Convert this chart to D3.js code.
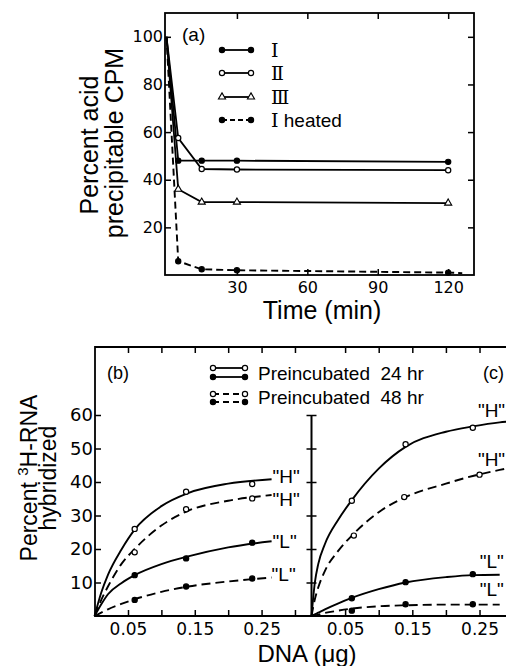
<!DOCTYPE html>
<html>
<head>
<meta charset="utf-8">
<script src="https://cdn.jsdelivr.net/npm/d3@7"></script>
<style>
  body { margin: 0; background: #fff; }
  svg { display: block; }
</style>
</head>
<body>
<script>
// ---- panel (a): percent acid precipitable CPM vs time
const timeMin = [5, 15, 30, 120];
const startPct = 100;                 // every series starts at 100% at t = 0
const pctI = [48, 48, 48, 47.5];
const pctII = [57.5, 44.5, 44.3, 44];
const pctIII = [36, 30.6, 30.6, 30.2];
const pctHeated = [5.8, 2.4, 2, 1];
const heatedTail = [126, 0.8];        // dashed line runs on past the last point
const timeTicks = [30, 60, 90, 120];
const pctTicks = [20, 40, 60, 80, 100];
const aNames = ["Ⅰ", "Ⅱ", "Ⅲ", "Ⅰ"];

// ---- panels (b) and (c): percent 3H-RNA hybridized vs DNA
const bDose = [0.06, 0.137, 0.236];
const bH24 = [26, 37.1, 39.4];
const bH48 = [19, 31.9, 35.1];
const bL24 = [12.2, 17.2, 21.9];
const bL48 = [4.8, 8.8, 11.2];
// hand-drawn curves, read along their length
const bFitX = [0, 0.01, 0.02, 0.04, 0.06, 0.1, 0.14, 0.2, 0.265];
const bFitH24 = [0, 7, 12.3, 19.8, 25.8, 32.8, 36.7, 39.5, 40.8];
const bFitH48 = [0, 4.8, 8.8, 15.5, 20, 27, 31.4, 34.4, 36.1];
const bFitL24 = [0, 3.5, 6.5, 9.8, 12.2, 15.5, 17.8, 20.5, 22.3];
const bFitL48 = [0, 1, 2, 3.6, 5, 7.2, 8.8, 10.3, 11.5];

const cDose = [0.06, 0.14, 0.24];
const cDoseH48 = [0.063, 0.138, 0.25];
const cH24 = [34.4, 51.3, 56.2];
const cH48 = [24, 35.5, 42.2];
const cL24 = [5.3, 10.1, 12.5];
const cL48 = [1.6, 3.5, 3.5];
const cFitX = [0, 0.005, 0.01, 0.02, 0.04, 0.06, 0.1, 0.14, 0.2, 0.24, 0.28, 0.29];
const cFitH24 = [0, 10, 15.5, 21.5, 28.8, 34.6, 44, 50.5, 55, 56.6, 57.8, 58];
const cFitH48 = [0, 5, 8.5, 13.5, 19.5, 24, 31, 35.5, 39.5, 41.8, 43.6, 44];
const cFitL24 = [0, 0.5, 1, 2, 3.8, 5.4, 8, 10, 11.6, 12.2, 12.3, null];
const cFitL48 = [0, 0.2, 0.4, 0.9, 1.6, 2.2, 2.9, 3.2, 3.4, 3.4, 3.4, null];

const doseTicks = [0.05, 0.1, 0.15, 0.2, 0.25, 0.3];
const doseLabels = [0.05, 0.15, 0.25];
const hybTicks = [10, 20, 30, 40, 50, 60];

const SANS = "'Liberation Sans', Arial, sans-serif";
const NUM = "'DejaVu Sans', sans-serif";
const SERIF = "'DejaVu Serif', 'DejaVu Sans', serif";

const svg = d3.select("body").append("svg")
    .attr("width", 506)
    .attr("height", 666);

function styleAxis(g, size) {
    g.select(".domain").remove();
    g.selectAll(".tick line").attr("stroke", "#000").attr("stroke-width", 1.5);
    g.selectAll("text").attr("font-family", NUM).attr("font-size", size).attr("fill", "#000");
}

function marker(g, x, y, kind) {
    if (kind === "tri") {
        g.append("path")
            .attr("d", d3.symbol(d3.symbolTriangle, 22)())
            .attr("transform", `translate(${x},${y})`)
            .attr("fill", "#fff").attr("stroke", "#000").attr("stroke-width", 1.1);
    } else {
        g.append("circle")
            .attr("cx", x).attr("cy", y).attr("r", 2.6)
            .attr("fill", kind === "open" ? "#fff" : "#000")
            .attr("stroke", "#000").attr("stroke-width", 1.2);
    }
}

// ================= panel (a) =================
const ax = d3.scaleLinear().domain([0, 131]).range([166.5, 474]);
const ay = d3.scaleLinear().domain([0, 110]).range([275, 13]);

svg.append("rect")
    .attr("x", 165).attr("y", 13).attr("width", 309).attr("height", 262)
    .attr("fill", "none").attr("stroke", "#000").attr("stroke-width", 1.8);

svg.append("g").attr("transform", "translate(0,275)")
    .call(d3.axisBottom(ax).tickValues(timeTicks).tickSize(-6).tickPadding(7).tickFormat(d3.format("d")))
    .call(g => styleAxis(g, 16));
svg.append("g").attr("transform", "translate(0,13)")
    .call(d3.axisTop(ax).tickValues(timeTicks).tickSize(-6).tickFormat(""))
    .call(g => styleAxis(g, 16));
svg.append("g").attr("transform", "translate(165,0)")
    .call(d3.axisLeft(ay).tickValues(pctTicks).tickSize(-6).tickPadding(2).tickFormat(d3.format("d")))
    .call(g => styleAxis(g, 16));
svg.append("g").attr("transform", "translate(474,0)")
    .call(d3.axisRight(ay).tickValues(pctTicks).tickSize(-6).tickFormat(""))
    .call(g => styleAxis(g, 16));

const aSeries = [
    { vals: pctI, kind: "fill", dash: null },
    { vals: pctII, kind: "open", dash: null },
    { vals: pctIII, kind: "tri", dash: null },
    { vals: pctHeated, kind: "fill", dash: "7,4" }
];
const aLine = d3.line().x(d => ax(d[0])).y(d => ay(d[1]));

aSeries.forEach((s, i) => {
    const pts = [[0, startPct]].concat(timeMin.map((t, j) => [t, s.vals[j]]));
    if (i === 3) pts.push(heatedTail);
    svg.append("path")
        .attr("d", aLine(pts))
        .attr("fill", "none").attr("stroke", "#000")
        .attr("stroke-width", s.dash ? 1.9 : 1.8)
        .attr("stroke-dasharray", s.dash);
    timeMin.forEach((t, j) => marker(svg, ax(t), ay(s.vals[j]), s.kind));
});

svg.append("text").attr("x", 182).attr("y", 41)
    .attr("font-family", SANS).attr("font-size", 19).text("(a)");

// legend (a)
const aLegY = [50, 73, 97, 120];
aSeries.forEach((s, i) => {
    const y = aLegY[i];
    svg.append("line").attr("x1", 222).attr("x2", 251).attr("y1", y).attr("y2", y)
        .attr("stroke", "#000").attr("stroke-width", 1.8)
        .attr("stroke-dasharray", s.dash ? "5,3" : null);
    marker(svg, 222, y, s.kind);
    marker(svg, 251, y, s.kind);
    const t = svg.append("text").attr("x", 271).attr("y", y + 7)
        .attr("font-size", 19);
    t.append("tspan").attr("font-family", SERIF).text(aNames[i]);
    if (i === 3) t.append("tspan").attr("font-family", SANS).text(" heated");
});

// titles (a)
svg.append("text")
    .attr("transform", "translate(98,145) rotate(-90)")
    .attr("text-anchor", "middle").attr("font-family", SANS).attr("font-size", 25)
    .text("Percent  acid");
svg.append("text")
    .attr("transform", "translate(123,143) rotate(-90)")
    .attr("text-anchor", "middle").attr("font-family", SANS).attr("font-size", 25)
    .text("precipitable  CPM");
svg.append("text")
    .attr("x", 322).attr("y", 319)
    .attr("text-anchor", "middle").attr("font-family", SANS).attr("font-size", 25)
    .text("Time (min)");

// ================= panels (b) and (c) =================
const bx = d3.scaleLinear().domain([0, 0.327]).range([94.6, 313]);
const cx = d3.scaleLinear().domain([0, 0.29]).range([311.5, 506.4]);
const yB = d3.scaleLinear().domain([0, 80]).range([616, 348]);

svg.append("path")
    .attr("d", "M506,347H95V616H506")
    .attr("fill", "none").attr("stroke", "#000").attr("stroke-width", 1.8);

const doseFmt = d => doseLabels.includes(d) ? d3.format(".2f")(d) : "";
svg.append("g").attr("transform", "translate(0,616)")
    .call(d3.axisBottom(bx).tickValues(doseTicks).tickSize(-6).tickPadding(7).tickFormat(doseFmt))
    .call(g => styleAxis(g, 17));
svg.append("g").attr("transform", "translate(0,616)")
    .call(d3.axisBottom(cx).tickValues(doseTicks).tickSize(-6).tickPadding(7).tickFormat(doseFmt))
    .call(g => styleAxis(g, 17));
svg.append("g").attr("transform", "translate(0,347)")
    .call(d3.axisTop(bx).tickValues(doseTicks).tickSize(-6).tickFormat(""))
    .call(g => styleAxis(g, 17));
svg.append("g").attr("transform", "translate(0,347)")
    .call(d3.axisTop(cx).tickValues(doseTicks).tickSize(-6).tickFormat(""))
    .call(g => styleAxis(g, 17));
svg.append("g").attr("transform", "translate(95,0)")
    .call(d3.axisLeft(yB).tickValues(hybTicks).tickSize(-6).tickPadding(2).tickFormat(d3.format("d")))
    .call(g => styleAxis(g, 18));

// (c) axis with crossing ticks
svg.append("line")
    .attr("x1", cx(0)).attr("x2", cx(0)).attr("y1", yB(0)).attr("y2", yB(60))
    .attr("stroke", "#000").attr("stroke-width", 2);
svg.append("g").attr("transform", `translate(${cx(0)},0)`)
    .call(d3.axisLeft(yB).tickValues(hybTicks).tickSize(5).tickFormat(""))
    .call(g => styleAxis(g, 17));
svg.append("g").attr("transform", `translate(${cx(0)},0)`)
    .call(d3.axisRight(yB).tickValues(hybTicks).tickSize(5).tickFormat(""))
    .call(g => styleAxis(g, 17));

const fitLine = xs => d3.line()
    .defined(d => d[1] !== null)
    .curve(d3.curveMonotoneX)
    .x(d => xs(d[0])).y(d => yB(d[1]));

// label offsets are layout only (pixels from curve end)
const hybSeries = [
    { xs: bx, fitX: bFitX, fit: bFitH24, dose: bDose, pts: bH24, kind: "open", dash: null, lab: "\"H\"", dx: 0, dy: 4 },
    { xs: bx, fitX: bFitX, fit: bFitH48, dose: bDose, pts: bH48, kind: "open", dash: "9,5", lab: "\"H\"", dx: 0, dy: 11 },
    { xs: bx, fitX: bFitX, fit: bFitL24, dose: bDose, pts: bL24, kind: "fill", dash: null, lab: "\"L\"", dx: 0, dy: 7 },
    { xs: bx, fitX: bFitX, fit: bFitL48, dose: bDose, pts: bL48, kind: "fill", dash: "9,5", lab: "\"L\"", dx: -1, dy: 4 },
    { xs: cx, fitX: cFitX, fit: cFitH24, dose: cDose, pts: cH24, kind: "open", dash: null, lab: "\"H\"", dx: -29.5, dy: -5 },
    { xs: cx, fitX: cFitX, fit: cFitH48, dose: cDoseH48, pts: cH48, kind: "open", dash: "9,5", lab: "\"H\"", dx: -29.5, dy: -3 },
    { xs: cx, fitX: cFitX, fit: cFitL24, dose: cDose, pts: cL24, kind: "fill", dash: null, lab: "\"L\"", dx: -21, dy: -7 },
    { xs: cx, fitX: cFitX, fit: cFitL48, dose: cDose, pts: cL48, kind: "fill", dash: "9,5", lab: "\"L\"", dx: -21, dy: -9 }
];

hybSeries.forEach(s => {
    const pts = s.fitX.map((x, i) => [x, s.fit[i]]);
    svg.append("path")
        .attr("d", fitLine(s.xs)(pts))
        .attr("fill", "none").attr("stroke", "#000")
        .attr("stroke-width", 1.9)
        .attr("stroke-dasharray", s.dash);
    s.dose.forEach((d, i) => marker(svg, s.xs(d), yB(s.pts[i]), s.kind));
    const last = pts.filter(p => p[1] !== null).pop();
    svg.append("text")
        .attr("x", s.xs(last[0]) + 1 + s.dx)
        .attr("y", yB(last[1]) + s.dy)
        .attr("font-family", SANS).attr("font-size", 19)
        .text(s.lab);
});

svg.append("text").attr("x", 107).attr("y", 379)
    .attr("font-family", SANS).attr("font-size", 18).text("(b)");
svg.append("text").attr("x", 483).attr("y", 379)
    .attr("font-family", SANS).attr("font-size", 18).text("(c)");

// legend (b)
const legRows = [
    { y: [368, 377], dash: null, text: "Preincubated\u00a0\u00a024 hr", ty: 380 },
    { y: [394, 402], dash: "6,4", text: "Preincubated\u00a0\u00a048 hr", ty: 404 }
];
legRows.forEach(r => {
    r.y.forEach((y, k) => {
        svg.append("line").attr("x1", 213).attr("x2", 245).attr("y1", y).attr("y2", y)
            .attr("stroke", "#000").attr("stroke-width", 1.8)
            .attr("stroke-dasharray", r.dash);
        marker(svg, 213, y, k === 0 ? "open" : "fill");
        marker(svg, 245, y, k === 0 ? "open" : "fill");
    });
    svg.append("text").attr("x", 258).attr("y", r.ty)
        .attr("font-family", SANS).attr("font-size", 19).text(r.text);
});

// titles (b)/(c)
const yt = svg.append("text")
    .attr("transform", "translate(37,478) rotate(-90)")
    .attr("text-anchor", "middle").attr("font-family", SANS).attr("font-size", 23);
yt.append("tspan").text("Percent ");
yt.append("tspan").attr("font-size", 15).attr("dy", -9).text("3");
yt.append("tspan").attr("dy", 9).text("H-RNA");
svg.append("text")
    .attr("transform", "translate(56,478) rotate(-90)")
    .attr("text-anchor", "middle").attr("font-family", SANS).attr("font-size", 23)
    .text("hybridized");
svg.append("text")
    .attr("x", 307).attr("y", 662)
    .attr("text-anchor", "middle").attr("font-family", SANS).attr("font-size", 24)
    .text("DNA (μg)");
</script>
</body>
</html>
